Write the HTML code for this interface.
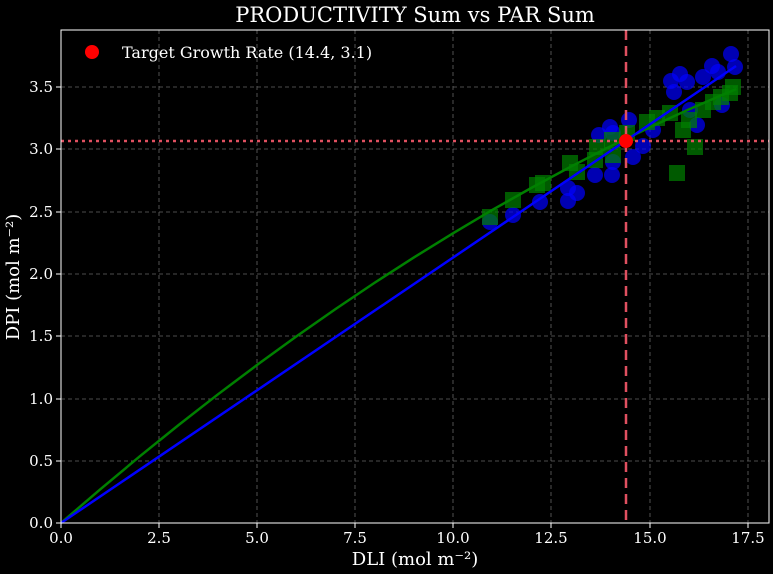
<!DOCTYPE html><html><head><style>html,body{margin:0;background:#000;overflow:hidden;width:773px;height:574px}svg{display:block}text{font-family:"DejaVu Serif","Liberation Serif",serif;fill:#fff}</style></head><body>
<svg width="773" height="574" xmlns="http://www.w3.org/2000/svg">
<rect width="773" height="574" fill="#000"/>
<g stroke="#666" stroke-dasharray="4,3" stroke-width="0.8">
<line x1="159" y1="30" x2="159" y2="523"/><line x1="257" y1="30" x2="257" y2="523"/><line x1="355" y1="30" x2="355" y2="523"/><line x1="453" y1="30" x2="453" y2="523"/><line x1="551" y1="30" x2="551" y2="523"/><line x1="650" y1="30" x2="650" y2="523"/><line x1="748" y1="30" x2="748" y2="523"/>
<line x1="61" y1="461" x2="769" y2="461"/><line x1="61" y1="399" x2="769" y2="399"/><line x1="61" y1="336" x2="769" y2="336"/><line x1="61" y1="274" x2="769" y2="274"/><line x1="61" y1="212" x2="769" y2="212"/><line x1="61" y1="149" x2="769" y2="149"/><line x1="61" y1="87" x2="769" y2="87"/>
</g>
<g fill="#0000ff" fill-opacity="0.7">
<circle cx="731" cy="54" r="8"/><circle cx="735" cy="67" r="8"/><circle cx="712" cy="66" r="8"/><circle cx="718" cy="72" r="8"/><circle cx="671" cy="81" r="8"/><circle cx="680" cy="74" r="8"/><circle cx="687" cy="82" r="8"/><circle cx="703" cy="77" r="8"/><circle cx="674" cy="92" r="8"/><circle cx="629" cy="120" r="8"/><circle cx="610" cy="127" r="8"/><circle cx="599" cy="135" r="8"/><circle cx="613" cy="133" r="8"/><circle cx="643" cy="146" r="8"/><circle cx="633" cy="157" r="8"/><circle cx="613" cy="162" r="8"/><circle cx="595" cy="175" r="8"/><circle cx="612" cy="175" r="8"/><circle cx="577" cy="193" r="8"/><circle cx="568" cy="188" r="8"/><circle cx="568" cy="201" r="8"/><circle cx="540" cy="202" r="8"/><circle cx="513" cy="215" r="8"/><circle cx="490" cy="222" r="8"/><circle cx="697" cy="125" r="8"/><circle cx="653" cy="130" r="8"/><circle cx="722" cy="105" r="8"/><circle cx="690" cy="110" r="8"/>
</g>
<g fill="#008000" fill-opacity="0.7">
<rect x="725" y="79" width="16" height="16"/><rect x="722" y="85" width="16" height="16"/><rect x="705" y="94" width="16" height="16"/><rect x="695" y="102" width="16" height="16"/><rect x="675" y="122" width="16" height="16"/><rect x="687" y="139" width="16" height="16"/><rect x="669" y="165" width="16" height="16"/><rect x="662" y="105" width="16" height="16"/><rect x="649" y="110" width="16" height="16"/><rect x="639" y="114" width="16" height="16"/><rect x="619" y="125" width="16" height="16"/><rect x="604" y="132" width="16" height="16"/><rect x="589" y="139" width="16" height="16"/><rect x="605" y="147" width="16" height="16"/><rect x="587" y="152" width="16" height="16"/><rect x="569" y="164" width="16" height="16"/><rect x="562" y="155" width="16" height="16"/><rect x="535" y="175" width="16" height="16"/><rect x="529" y="177" width="16" height="16"/><rect x="505" y="192" width="16" height="16"/><rect x="482" y="209" width="16" height="16"/><rect x="681" y="112" width="16" height="16"/><rect x="713" y="89" width="16" height="16"/>
</g>
<polyline fill="none" stroke="#008000" stroke-width="2.5" points="61,523 100.3,489.3 139.5,456.6 178.8,424.9 218,394.3 257.3,364.8 296.6,336.3 335.8,308.9 375,282.5 414.3,257.2 453.6,232.9 492.9,209.6 532.1,187.5 571.4,166.3 610.6,146.3 650,127.2 689.2,109.3 728.4,92.3 736.3,89.1"/>
<line x1="61" y1="523" x2="736" y2="66" stroke="#0000ff" stroke-width="2.5"/>
<line x1="626" y1="30" x2="626" y2="523" stroke="#e05060" stroke-width="2.5" stroke-dasharray="10,6"/>
<line x1="61" y1="141" x2="769" y2="141" stroke="#e05060" stroke-width="2.5" stroke-dasharray="3,4"/>
<circle cx="626" cy="141" r="7" fill="#ff0000"/>
<rect x="61" y="30" width="708" height="493" fill="none" stroke="#fff" stroke-width="1"/>
<g stroke="#fff" stroke-width="1">
<line x1="61" y1="523" x2="61" y2="528"/><line x1="159" y1="523" x2="159" y2="528"/><line x1="257" y1="523" x2="257" y2="528"/><line x1="355" y1="523" x2="355" y2="528"/><line x1="453" y1="523" x2="453" y2="528"/><line x1="551" y1="523" x2="551" y2="528"/><line x1="650" y1="523" x2="650" y2="528"/><line x1="748" y1="523" x2="748" y2="528"/>
<line x1="56" y1="523" x2="61" y2="523"/><line x1="56" y1="461" x2="61" y2="461"/><line x1="56" y1="399" x2="61" y2="399"/><line x1="56" y1="336" x2="61" y2="336"/><line x1="56" y1="274" x2="61" y2="274"/><line x1="56" y1="212" x2="61" y2="212"/><line x1="56" y1="149" x2="61" y2="149"/><line x1="56" y1="87" x2="61" y2="87"/>
</g>
<g font-size="15" text-anchor="middle">
<text x="61" y="543">0.0</text><text x="159" y="543">2.5</text><text x="257" y="543">5.0</text><text x="355" y="543">7.5</text><text x="453" y="543">10.0</text><text x="551" y="543">12.5</text><text x="650" y="543">15.0</text><text x="748" y="543">17.5</text>
</g>
<g font-size="15" text-anchor="end">
<text x="53" y="528">0.0</text><text x="53" y="466">0.5</text><text x="53" y="404">1.0</text><text x="53" y="341">1.5</text><text x="53" y="279">2.0</text><text x="53" y="217">2.5</text><text x="53" y="154">3.0</text><text x="53" y="92">3.5</text>
</g>
<text x="415" y="565" font-size="18" text-anchor="middle">DLI (mol m⁻²)</text>
<text transform="translate(19,277) rotate(-90)" font-size="18" text-anchor="middle">DPI (mol m⁻²)</text>
<text x="415" y="22" font-size="21" text-anchor="middle">PRODUCTIVITY Sum vs PAR Sum</text>
<circle cx="92" cy="52" r="7" fill="#ff0000"/>
<text x="122" y="58" font-size="16">Target Growth Rate (14.4, 3.1)</text>
</svg></body></html>
